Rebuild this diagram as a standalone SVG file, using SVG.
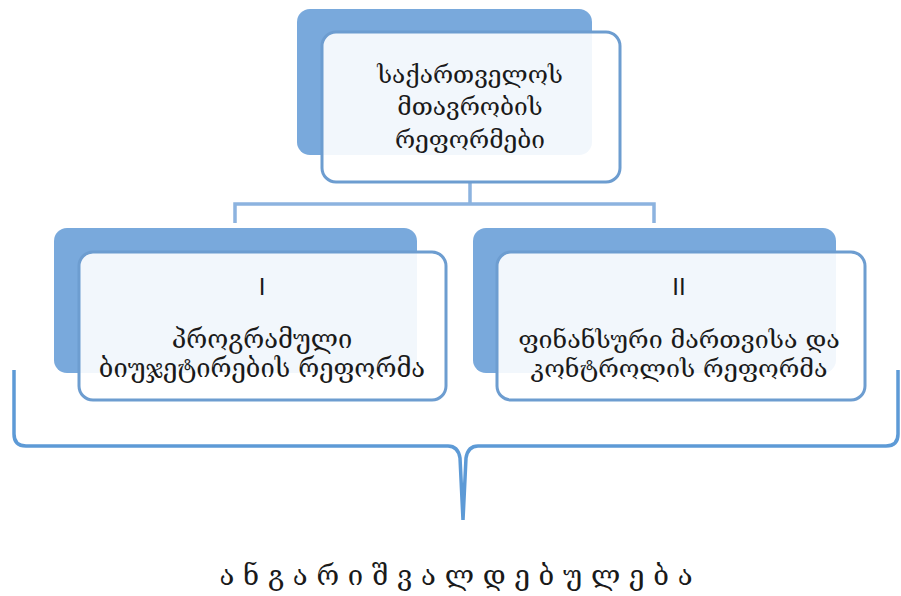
<svg xmlns="http://www.w3.org/2000/svg" width="901" height="596" viewBox="0 0 901 596">
  <style>
    .back { fill: #79a9dc; }
    .front { fill: #ffffff; fill-opacity: 0.9; stroke: #6d9dd0; stroke-width: 3; }
    .link { fill: none; stroke: #8cb3df; stroke-width: 3.5; }
    .brace { fill: none; stroke: #5d9ad6; stroke-width: 3.5; }
    .lbl { font-family: "DejaVu Serif", "DejaVu Sans", serif; fill: #1a1a1a; text-anchor: middle; }
    .num { font-family: "Liberation Sans", Arial, sans-serif; fill: #1a1a1a; text-anchor: middle; font-size: 24px; }
  </style>
  <rect width="901" height="596" fill="#ffffff"/>

  <!-- connectors -->
  <g id="connectors">
    <path class="link" d="M470 182 V204 M235 223 V204 H654 V223"/>
    <path class="brace" d="M14 370 V434 Q14 446 26 446 H448 Q458 446 460 458 L463 520 L466 458 Q468 446 478 446 H886 Q898 446 898 434 V370"/>
  </g>

  <!-- top node -->
  <g id="node-top">
    <rect class="back" x="297" y="9" width="295" height="146" rx="13"/>
    <rect class="front" x="322" y="32" width="298" height="150" rx="14"/>
    <text class="lbl" font-size="24.5" x="470" y="83">საქართველოს</text>
    <text class="lbl" font-size="24.5" x="470" y="115">მთავრობის</text>
    <text class="lbl" font-size="24.5" x="470" y="148">რეფორმები</text>
  </g>

  <!-- left node -->
  <g id="node-left">
    <rect class="back" x="54" y="228" width="363" height="145" rx="13"/>
    <rect class="front" x="79" y="252" width="367" height="148" rx="14"/>
    <text class="num" x="262" y="295">I</text>
    <text class="lbl" font-size="25.5" x="262" y="348">პროგრამული</text>
    <text class="lbl" font-size="25.5" x="262" y="377">ბიუჯეტირების რეფორმა</text>
  </g>

  <!-- right node -->
  <g id="node-right">
    <rect class="back" x="473" y="228" width="363" height="145" rx="13"/>
    <rect class="front" x="497" y="252" width="368" height="148" rx="14"/>
    <text class="num" x="679" y="295">II</text>
    <text class="lbl" font-size="25" x="679" y="348">ფინანსური მართვისა და</text>
    <text class="lbl" font-size="25" x="679" y="377">კონტროლის რეფორმა</text>
  </g>

  <!-- caption under the brace -->
  <g id="caption">
    <text class="lbl" font-size="27.5" x="456" y="585">ა ნ გ ა რ ი შ ვ ა ლ დ ე ბ უ ლ ე ბ ა</text>
  </g>
</svg>
